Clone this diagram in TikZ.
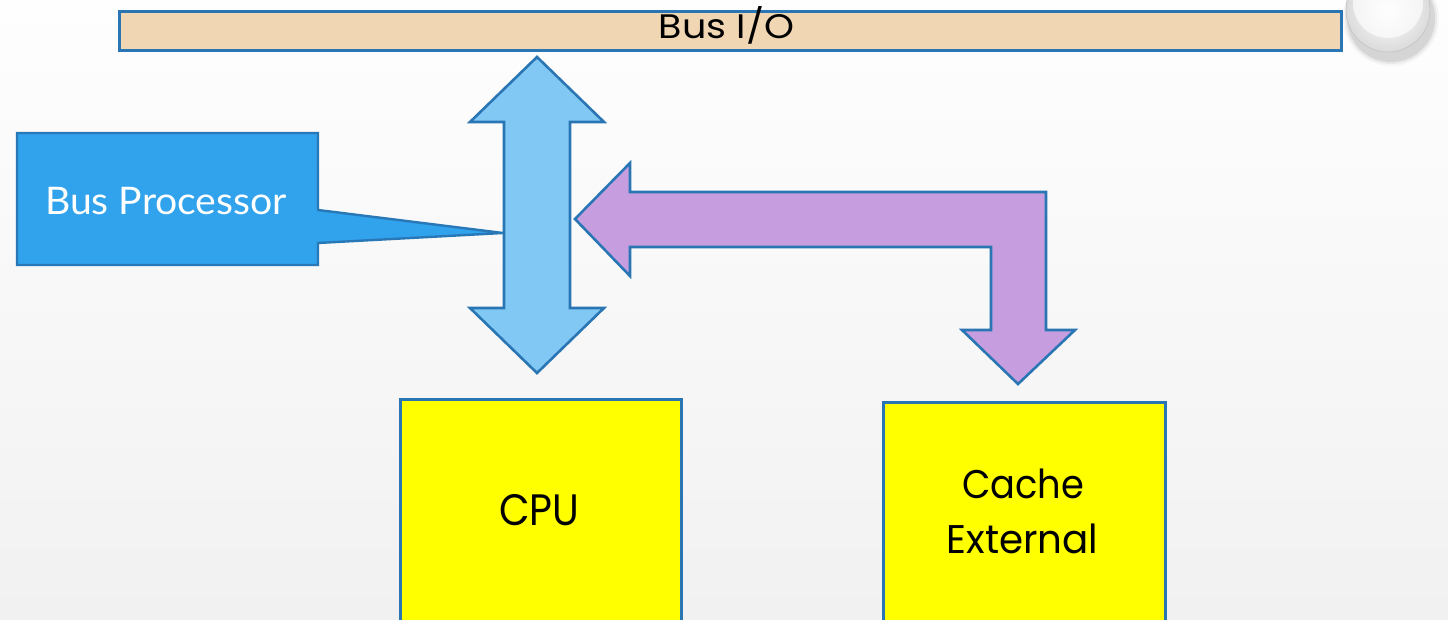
\documentclass[tikz,border=0pt]{standalone}
\usepackage{fontspec}
\setmainfont{Poppins}
\newfontfamily\calloutfont{Lato}
\definecolor{edgeblue}{HTML}{2A76B4}
\definecolor{barfill}{HTML}{F0D6B3}
\definecolor{calloutfill}{HTML}{31A2EC}
\definecolor{calloutedge}{HTML}{2878B8}
\definecolor{busarrow}{HTML}{82C8F4}
\definecolor{cachearrow}{HTML}{C69EE0}
\definecolor{unitfill}{HTML}{FFFF00}
\definecolor{bgtop}{HTML}{FEFEFE}
\definecolor{bgbot}{HTML}{F1F1F1}
\begin{document}
\begin{tikzpicture}[x=1pt,y=-1pt,
  bar/.style={draw=edgeblue, line width=2.8pt, fill=barfill, inner sep=0pt, anchor=north west},
  unit/.style={draw=edgeblue, line width=2.6pt, fill=unitfill, inner sep=0pt, anchor=north west},
  blockarrow/.style={draw=edgeblue, line width=2.6pt, line join=miter},
  label/.style={anchor=base, inner sep=0pt, text=black},
]
\useasboundingbox (0,0) rectangle (1448,620);
% backdrop
\shade[top color=bgtop, bottom color=bgbot] (0,0) rectangle (1448,620);

% I/O bus bar
\node[bar, minimum width=1222pt, minimum height=39pt] (iobus) at (118,10) {};
\node[label, font=\fontsize{34}{34}\selectfont] (iolabel) at (726.5,39) {\scalebox{1.12}[1]{Bus I/O}};

% glossy button in the corner
\foreach \r/\o in {48/0.03, 46/0.05, 44/0.08}
  \fill[black, opacity=\o] (1391,18) circle (\r);
\shade[inner color=white, outer color=black!14] (1388,10) circle (42);
\fill[white, opacity=0.65] (1388,3) circle (35);
\draw[black!22, line width=0.8pt] (1388,10) circle (42);
\coordinate (button) at (1388,10);

% processor bus (double-headed block arrow)
\filldraw[blockarrow, fill=busarrow]
  (537,57) -- (604,122) -- (570,122) -- (570,308) -- (604,308) -- (537,373)
  -- (470,308) -- (504,308) -- (504,122) -- (470,122) -- cycle;
\coordinate (bustip) at (503,233);

% bent arrow to the external cache
\filldraw[blockarrow, fill=cachearrow]
  (575,219) -- (630,163) -- (630,192) -- (1046,192) -- (1046,330) -- (1075,330)
  -- (1018,384) -- (962,330) -- (991,330) -- (991,247) -- (630,247) -- (630,276) -- cycle;

% callout naming the processor bus
\filldraw[draw=calloutedge, line width=2.4pt, fill=calloutfill, line join=miter]
  (17,133) -- (318,133) -- (318,210) -- (bustip) -- (318,243) -- (318,265) -- (17,265) -- cycle;
\node[label, text=white, font=\calloutfont\fontsize{38}{38}\selectfont] (calltext) at (166,215) {\scalebox{1.03}[1]{Bus Processor}};

% processing units
\node[unit, minimum width=281pt, minimum height=230pt] (cpu) at (399,398) {};
\node[label, font=\fontsize{44}{44}\selectfont] (cpulabel) at (539.5,525) {\scalebox{0.9}[1]{CPU}};
\node[unit, minimum width=282pt, minimum height=230pt] (cache) at (882,401) {};
\node[label, font=\fontsize{40}{40}\selectfont] (cachelabel) at (1023,498) {\scalebox{0.92}[1]{Cache}};
\node[label, font=\fontsize{40}{40}\selectfont] (extlabel) at (1022.5,553) {\scalebox{0.97}[1]{External}};
\end{tikzpicture}
\end{document}
